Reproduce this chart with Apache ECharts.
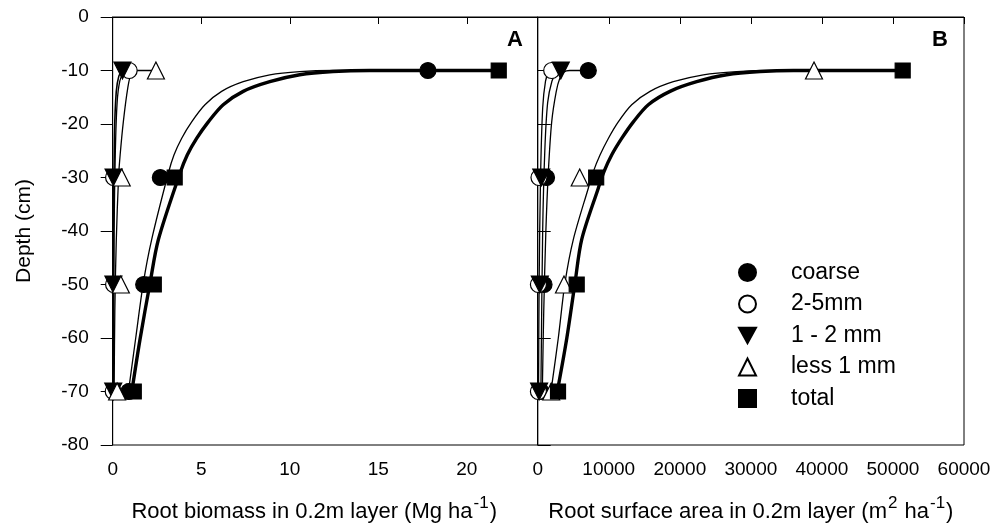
<!DOCTYPE html>
<html>
<head>
<meta charset="utf-8">
<script src="https://cdn.jsdelivr.net/npm/echarts@6/dist/echarts.min.js"></script>
<style>
  html, body { margin: 0; padding: 0; background: #fff; }
  #chart { width: 1003px; height: 525px; }
</style>
</head>
<body>
<div id="chart"></div>
<script>
// depth of each sampled layer (cm)
const depths = [-10, -30, -50, -70];

// panel A - root biomass (Mg ha-1)
const biomassCoarse = [17.8, 2.69, 1.75, 0.91];
const biomass25 = [0.93, 0.05, 0.05, 0.03];
const biomass12 = [0.55, 0.05, 0.04, 0.03];
const biomassLess1 = [2.44, 0.51, 0.46, 0.25];
const biomassTotal = [21.8, 3.5, 2.32, 1.19];

// panel B - root surface area (m2 ha-1)
const areaCoarse = [7120, 1240, 890, 460];
const area25 = [1970, 180, 100, 100];
const area12 = [3250, 500, 300, 200];
const areaLess1 = [38890, 5910, 3700, 1900];
const areaTotal = [51370, 8230, 5490, 2860];

// fitted curves, [x, depth]
const fitBiomassTotal = [[1.08,-70],[1.54,-60.3],[2.11,-49.7],[2.58,-41.6],[3.8,-29.2],[4.21,-25.8],[4.74,-22.7],[5.4,-19.6],[6.24,-16.4],[7.37,-13.9],[8.87,-12.1],[10.56,-10.8],[12.44,-10.2],[14.5,-10],[21.8,-10]];
const fitBiomassCoarse = [[0.89,-70],[1.3,-60],[1.73,-49.7],[2.2,-41.6],[3.14,-29.2],[3.46,-25.8],[3.89,-22.7],[4.46,-19.6],[5.21,-16.4],[6.15,-13.9],[7.37,-12.1],[8.87,-10.8],[10.56,-10.2],[12.44,-10],[17.8,-10]];
const fitBiomassLess1 = [[0.08,-70],[0.12,-55],[0.2,-42],[0.33,-30],[0.42,-25.8],[0.6,-19.6],[0.85,-13.3],[1.05,-10.6],[1.4,-10],[2.44,-10]];
const fitBiomass25 = [[0.04,-70],[0.08,-40],[0.15,-25],[0.25,-16],[0.4,-12],[0.6,-10.5],[0.93,-10]];
const fitBiomass12 = [[0.03,-70],[0.05,-40],[0.1,-22],[0.2,-14],[0.35,-11],[0.55,-10]];

const fitAreaTotal = [[2900,-69],[4100,-60],[5250,-49.7],[6190,-41.6],[8530,-32],[9330,-28.9],[10410,-25.8],[11820,-22.7],[13460,-19.6],[15570,-16.4],[18620,-13.9],[22380,-12.1],[26600,-10.8],[31290,-10.2],[36000,-10],[51370,-10]];
const fitAreaLess1 = [[1970,-69],[2900,-60],[3840,-49.7],[5010,-41.6],[7120,-32],[7830,-28.9],[8770,-25.8],[9940,-22.7],[11340,-19.6],[13230,-16.4],[15810,-13.9],[19090,-12.1],[23310,-10.8],[28010,-10.2],[33000,-10],[38890,-10]];
const fitAreaCoarse = [[650,-70],[850,-55],[1150,-40],[1500,-28.9],[1970,-19.6],[2600,-14],[3100,-11.5],[3700,-10.3],[4500,-10],[7120,-10]];
const fitArea12 = [[450,-70],[700,-40],[1000,-25],[1400,-16],[2000,-12],[2600,-10.5],[3250,-10]];
const fitArea25 = [[120,-70],[200,-50],[400,-30],[700,-17],[1100,-12],[1500,-10.5],[1970,-10]];

const FONT = 'Liberation Sans, Arial, sans-serif';
const downTriangle = 'path://M0,0L20,0L10,18Z';

function pairs(xs) {
  return xs.map((x, i) => [x, depths[i]]);
}

// marker styles for the five root classes
const classes = [
  { name: 'coarse', symbol: 'circle', size: 16, fill: '#000' },
  { name: '2-5mm', symbol: 'circle', size: 16, fill: '#fff' },
  { name: '1 - 2 mm', symbol: downTriangle, size: 17, fill: '#000' },
  { name: 'less 1 mm', symbol: 'triangle', size: 17, fill: '#fff' },
  { name: 'total', symbol: 'rect', size: 15, fill: '#000' }
];

function scatter(cls, values, panel) {
  return {
    type: 'scatter',
    name: cls.name,
    xAxisIndex: panel,
    yAxisIndex: panel,
    symbol: cls.symbol,
    symbolSize: cls.size,
    itemStyle: { color: cls.fill, borderColor: '#000', borderWidth: 1.2, opacity: 1 },
    data: pairs(values),
    z: 3
  };
}

function curve(points, panel, width) {
  return {
    type: 'line',
    name: 'fit',
    xAxisIndex: panel,
    yAxisIndex: panel,
    showSymbol: false,
    symbol: 'none',
    smooth: 0.3,
    lineStyle: { color: '#000', width: width },
    data: points,
    z: 2
  };
}

function xAxis(panel, max, interval, name, pad) {
  return {
    type: 'value',
    gridIndex: panel,
    min: 0,
    max: max,
    interval: interval,
    axisLine: { show: true, lineStyle: { color: '#000', width: 1 } },
    axisTick: { show: true, inside: false, length: 7, lineStyle: { color: '#000' } },
    axisLabel: {
      color: '#000', fontSize: 19, fontFamily: FONT, margin: 15,
      showMaxLabel: panel === 1,
      formatter: v => String(v)
    },
    splitLine: { show: false },
    name: name,
    nameLocation: 'middle',
    nameGap: 50,
    nameTextStyle: {
      color: '#000', fontSize: 22, fontFamily: FONT, padding: pad,
      rich: { sup: { color: '#000', fontSize: 17, fontFamily: FONT, padding: [0, 1, 16, 1] } }
    }
  };
}

function yAxis(panel) {
  return {
    type: 'value',
    gridIndex: panel,
    min: -80,
    max: 0,
    interval: 10,
    axisLine: { show: true, onZero: false, lineStyle: { color: '#000', width: 1 } },
    axisTick: { show: true, inside: panel === 1, length: panel === 1 ? 13 : 12, lineStyle: { color: '#000' } },
    axisLabel: { show: panel === 0, color: '#000', fontSize: 19, fontFamily: FONT, margin: 24 },
    splitLine: { show: false },
    name: panel === 0 ? 'Depth (cm)' : '',
    nameLocation: 'middle',
    nameGap: 78,
    nameTextStyle: { color: '#000', fontSize: 21, fontFamily: FONT }
  };
}

const series = [
  curve(fitBiomassCoarse, 0, 1.3),
  curve(fitBiomassLess1, 0, 1.3),
  curve(fitBiomass25, 0, 1.3),
  curve(fitBiomass12, 0, 1.6),
  curve(fitBiomassTotal, 0, 3.4),
  curve(fitAreaLess1, 1, 1.3),
  curve(fitAreaCoarse, 1, 1.3),
  curve(fitArea25, 1, 1.3),
  curve(fitArea12, 1, 1.3),
  curve(fitAreaTotal, 1, 3.4),
  scatter(classes[0], biomassCoarse, 0),
  scatter(classes[1], biomass25, 0),
  scatter(classes[2], biomass12, 0),
  scatter(classes[3], biomassLess1, 0),
  scatter(classes[4], biomassTotal, 0),
  scatter(classes[0], areaCoarse, 1),
  scatter(classes[1], area25, 1),
  scatter(classes[2], area12, 1),
  scatter(classes[3], areaLess1, 1),
  scatter(classes[4], areaTotal, 1)
];

const chart = echarts.init(document.getElementById('chart'), null, { renderer: 'canvas' });
chart.setOption({
  animation: false,
  backgroundColor: '#fff',
  textStyle: { fontFamily: FONT },
  grid: [
    { left: 112.7, top: 17, width: 425, height: 428, show: true, borderColor: '#000', borderWidth: 1, backgroundColor: 'transparent', containLabel: false, outerBoundsMode: 'none' },
    { left: 537.7, top: 17, width: 426.3, height: 428, show: true, borderColor: '#000', borderWidth: 1, backgroundColor: 'transparent', containLabel: false, outerBoundsMode: 'none' }
  ],
  xAxis: [
    xAxis(0, 24, 5, 'Root biomass in 0.2m layer (Mg ha{sup|-1})', [0, 22, 0, 0]),
    xAxis(1, 60000, 10000, 'Root surface area in 0.2m layer (m{sup|2} ha{sup|-1})', 0)
  ],
  yAxis: [yAxis(0), yAxis(1)],
  legend: {
    data: classes.map(c => c.name),
    orient: 'vertical',
    left: 733,
    top: 256,
    itemWidth: 17,
    itemHeight: 17,
    itemGap: 8.5,
    selectedMode: false,
    textStyle: { color: '#000', fontSize: 23, fontFamily: FONT, padding: [0, 0, 0, 30] }
  },
  graphic: [
    { type: 'text', left: 507, top: 29, style: { text: 'A', font: 'bold 22px ' + FONT, fill: '#000' } },
    { type: 'text', left: 932, top: 29, style: { text: 'B', font: 'bold 22px ' + FONT, fill: '#000' } }
  ],
  series: series
});
</script>
</body>
</html>
